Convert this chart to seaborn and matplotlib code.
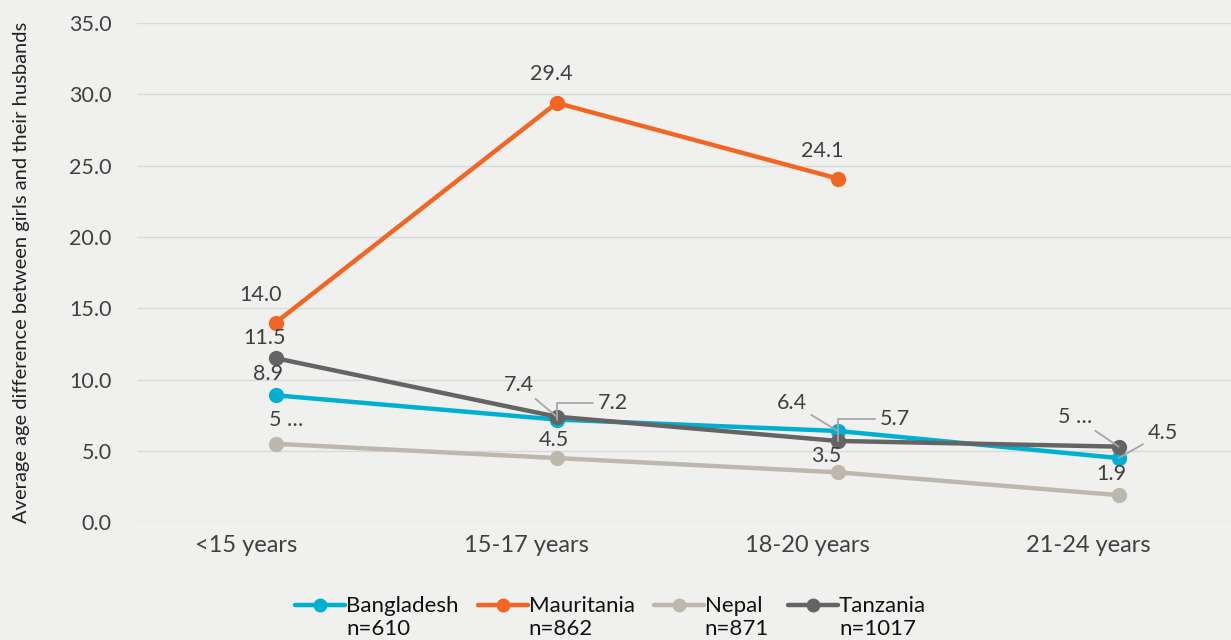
import numpy as np
import pandas as pd
import matplotlib.pyplot as plt
from matplotlib.lines import Line2D
from matplotlib.transforms import ScaledTranslation
import seaborn as sns

# ─── DATA ────────────────────────────────────────────────────────────────────
age_groups   = ["<15 years", "15-17 years", "18-20 years", "21-24 years"]
countries    = ["Bangladesh", "Mauritania", "Nepal", "Tanzania"]
sample_sizes = ["n=610", "n=862", "n=871", "n=1017"]

bangladesh = [8.9, 7.2, 6.4, 4.5]
mauritania = [14.0, 29.4, 24.1, np.nan]
nepal      = [5.5, 4.5, 3.5, 1.9]
tanzania   = [11.5, 7.4, 5.7, 5.3]

# labels as they appear in the chart (two are cut off by the original tool)
shown_labels = {
    ("Nepal", 0): "5 …",
    ("Tanzania", 3): "5 …",
}

# ─── STYLE ───────────────────────────────────────────────────────────────────
BG        = "#F0F0EE"
GRID      = "#D9D9D9"
TEXT      = "#404040"
LEADER    = "#A6A6A6"
palette   = {"Bangladesh": "#00B0D3", "Mauritania": "#F26522",
             "Nepal": "#BEB7AD", "Tanzania": "#646464"}

sns.set_theme(style="white")
plt.rcParams.update({
    "figure.facecolor": BG,
    "axes.facecolor":   BG,
})
plt.rcParams["font.family"] = ["Lato", "DejaVu Sans"]

# label offsets (pixels) and leader type per point
label_pos = {
    ("Bangladesh", 0): (-8, 21, None),
    ("Bangladesh", 1): (56, 17, "elbow"),
    ("Bangladesh", 2): (-46, 28, "line"),
    ("Bangladesh", 3): (44, 25, "line"),
    ("Mauritania", 0): (-15, 28, None),
    ("Mauritania", 1): (-5, 29, None),
    ("Mauritania", 2): (-15, 28, None),
    ("Nepal", 0): (10, 24, None),
    ("Nepal", 1): (-3, 18, None),
    ("Nepal", 2): (-11, 16, None),
    ("Nepal", 3): (-7, 21, None),
    ("Tanzania", 0): (-11, 20, None),
    ("Tanzania", 1): (-38, 32, "line"),
    ("Tanzania", 2): (57, 22, "elbow"),
    ("Tanzania", 3): (-44, 30, "line"),
}

# ─── LONG FORM ───────────────────────────────────────────────────────────────
series = dict(zip(countries, [bangladesh, mauritania, nepal, tanzania]))
df = pd.DataFrame([
    {"country": c, "pos": i, "value": v}
    for c in countries for i, v in enumerate(series[c])
]).dropna()

fig = plt.figure(figsize=(12.31, 6.4), dpi=100)
ax = fig.add_axes([0.111, 0.184, 0.889, 0.780])

sns.lineplot(data=df, x="pos", y="value", hue="country", hue_order=countries,
             palette=palette, marker="o", markersize=11, markeredgewidth=0,
             linewidth=3.2, legend=False, ax=ax)

ax.set_xlim(-0.495, 3.40)
ax.set_ylim(0, 35)
ax.set_yticks(np.arange(0, 35.1, 5))
ax.set_yticklabels([f"{t:.1f}" for t in np.arange(0, 35.1, 5)])
ax.set_xticks(range(len(age_groups)))
ax.set_xticklabels(age_groups)
ax.grid(axis="y", color=GRID, lw=1)
ax.set_axisbelow(True)
for s in ax.spines.values():
    s.set_visible(False)
ax.tick_params(axis="both", length=0, labelcolor=TEXT)
ax.tick_params(axis="y", pad=18, labelsize=15.5)
ax.tick_params(axis="x", pad=9, labelsize=17)
for lab in ax.get_xticklabels():
    lab.set_transform(lab.get_transform() + ScaledTranslation(-0.30, 0, fig.dpi_scale_trans))

ax.set_xlabel("")
ax.set_ylabel("Average age difference between girls and their husbands",
              fontsize=14.5, color="#222222")
ax.yaxis.set_label_coords(-0.097, 0.5)

# ─── DATA LABELS ─────────────────────────────────────────────────────────────
for c in countries:
    for i, v in enumerate(series[c]):
        if np.isnan(v):
            continue
        dx, dy, leader = label_pos[(c, i)]
        txt = shown_labels.get((c, i), f"{v:.1f}")
        arrow = None
        if leader == "line":
            arrow = dict(arrowstyle="-", color=LEADER, lw=1.3, shrinkA=1, shrinkB=0)
        elif leader == "elbow":
            arrow = dict(arrowstyle="-", color=LEADER, lw=1.3, shrinkA=1, shrinkB=0,
                         connectionstyle="angle,angleA=0,angleB=90,rad=0")
        ax.annotate(txt, xy=(i, v), xytext=(dx, dy), textcoords="offset pixels",
                    ha="center", va="center", fontsize=15.5, color=TEXT,
                    arrowprops=arrow, zorder=5)

# ─── LEGEND ──────────────────────────────────────────────────────────────────
handles = [Line2D([0], [0], color=palette[c], lw=3.2, marker="o", markersize=10,
                  markeredgewidth=0) for c in countries]
labels = [f"{c}\n{n}" for c, n in zip(countries, sample_sizes)]
leg = fig.legend(handles, labels, ncol=4, loc="center",
                 bbox_to_anchor=(0.496, 0.035), frameon=False, fontsize=16,
                 handlelength=2.25, handletextpad=0.05, columnspacing=0.85,
                 labelcolor="#111111")
for t in leg.get_texts():
    t.set_linespacing(1.15)
for h in leg.legend_handles:
    h.set_transform(h.get_transform() + ScaledTranslation(0, 0.13, fig.dpi_scale_trans))

fig.savefig("out.png", dpi=100, facecolor=BG)
